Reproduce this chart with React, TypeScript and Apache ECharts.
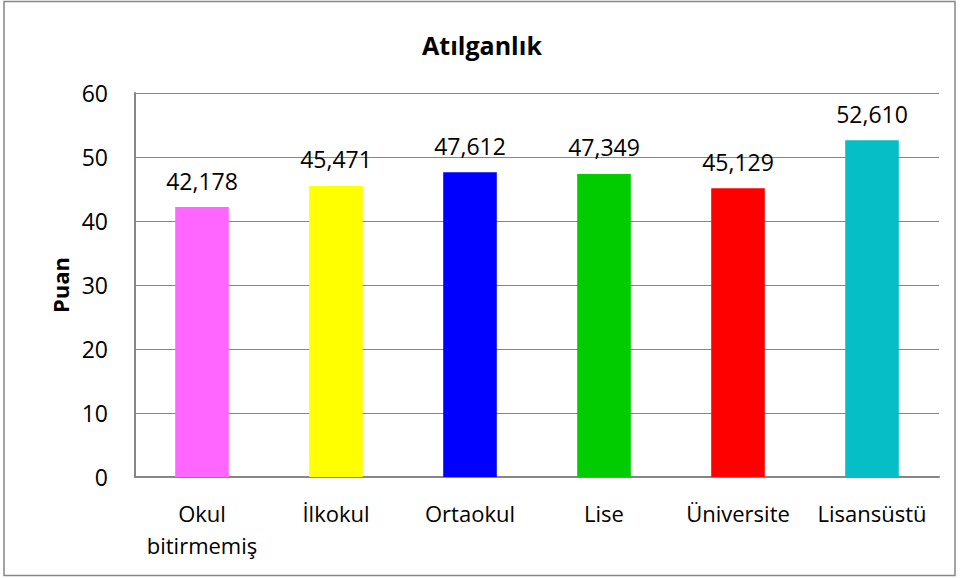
import React, { useEffect, useRef } from "react";
import * as echarts from "echarts";

const categories = ["Okul\nbitirmemiş", "İlkokul", "Ortaokul", "Lise", "Üniversite", "Lisansüstü"];
const values = [42.178, 45.471, 47.612, 47.349, 45.129, 52.61];
const barColors = ["#FF66FF", "#FFFF00", "#0000FF", "#00CC00", "#FF0000", "#06BEC6"];
const yTicks = { min: 0, max: 60, interval: 10 };
const titleText = "Atılganlık";
const yAxisName = "Puan";

const FONT = "'Open Sans', 'Noto Sans', sans-serif";

export default function App() {
  const ref = useRef<HTMLDivElement>(null);
  useEffect(() => {
    document.body.style.margin = "0";
    if (!ref.current) return;
    const chart = echarts.init(ref.current, undefined, { renderer: "svg" });
    chart.setOption({
      animation: false,
      backgroundColor: "#fff",
      textStyle: { fontFamily: FONT },
      graphic: [
        {
          type: "rect",
          shape: { x: 4, y: 1.5, width: 951, height: 574 },
          style: { fill: "none", stroke: "#868686", lineWidth: 1.5 },
          silent: true,
        },
      ],
      title: {
        text: titleText,
        left: "center",
        top: 27,
        textStyle: { fontFamily: FONT, fontWeight: "bold", fontSize: 25, color: "#000" },
      },
      grid: { left: 135, right: 25, top: 93, bottom: 101, containLabel: false },
      xAxis: {
        type: "category",
        data: categories,
        axisLine: { lineStyle: { color: "#868686", width: 2 } },
        axisTick: { show: false },
        axisLabel: { color: "#000", fontSize: 22, fontFamily: FONT, margin: 20, lineHeight: 32, interval: 0 },
      },
      yAxis: {
        type: "value",
        min: yTicks.min,
        max: yTicks.max,
        interval: yTicks.interval,
        name: yAxisName,
        nameLocation: "middle",
        nameGap: 63,
        nameRotate: 90,
        nameTextStyle: { fontFamily: FONT, fontWeight: "bold", fontSize: 22, color: "#000" },
        axisLine: { show: true, lineStyle: { color: "#868686", width: 2 } },
        axisTick: { show: false },
        splitLine: { lineStyle: { color: "#868686", width: 1 } },
        axisLabel: { color: "#000", fontSize: 23, fontFamily: FONT, margin: 27 },
      },
      series: [
        {
          type: "bar",
          data: values.map((v, i) => ({ value: v, itemStyle: { color: barColors[i] } })),
          barWidth: "40%",
          label: {
            show: true,
            position: "top",
            distance: 15,
            color: "#000",
            fontSize: 23,
            fontFamily: FONT,
            formatter: (p: any) => p.value.toFixed(3).replace(".", ","),
          },
        },
      ],
    });
    return () => chart.dispose();
  }, []);
  return <div ref={ref} style={{ width: 964, height: 578 }} />;
}
